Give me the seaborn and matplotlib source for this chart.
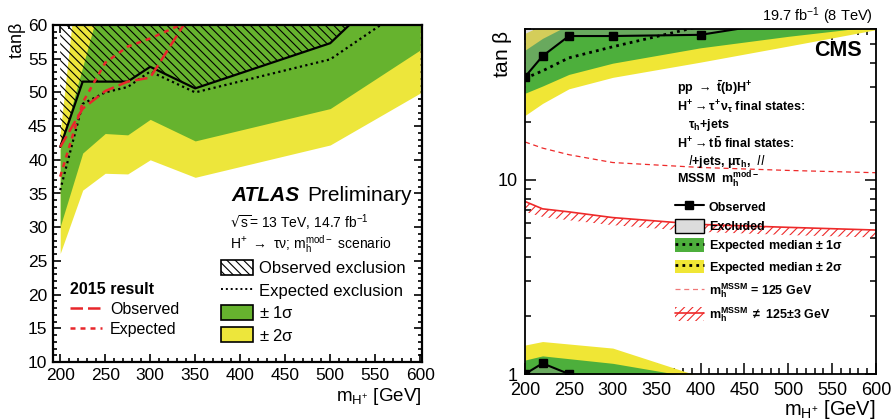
import numpy as np
import matplotlib
matplotlib.use('Agg')
import matplotlib.pyplot as plt
import matplotlib.patches as mpatches
from matplotlib.lines import Line2D
from matplotlib.ticker import MultipleLocator, FixedLocator, FixedFormatter, NullFormatter
import seaborn as sns

sns.set_style('ticks')
plt.rcParams['font.family'] = ['Liberation Sans', 'DejaVu Sans']
plt.rcParams['mathtext.default'] = 'regular'
plt.rcParams['hatch.linewidth'] = 0.8
for k in ['text.color', 'axes.labelcolor', 'xtick.color', 'ytick.color', 'axes.edgecolor']:
    plt.rcParams[k] = 'black'

# ---------------- ATLAS 13 TeV (left) ----------------
atlas_mass = [200, 225, 250, 275, 300, 350, 500, 600]
atlas_obs = [41.9, 51.6, 51.6, 51.6, 53.8, 50.6, 57.3, 70.0]
atlas_exp = [35.5, 48.3, 50.0, 50.8, 53.1, 50.0, 54.9, 64.0]
atlas_1s_lo = [30.1, 41.0, 43.9, 43.7, 46.0, 42.8, 47.6, 56.3]
atlas_1s_hi = [41.6, 53.8, 66.0, 80.0, 80.0, 80.0, 80.0, 80.0]
atlas_2s_lo = [26.1, 35.5, 38.0, 37.9, 40.0, 37.4, 42.2, 49.9]
atlas_2s_hi = [44.0, 75.0, 80.0, 80.0, 80.0, 80.0, 80.0, 80.0]

# 2015 result
atlas15_mass = [200, 225, 250, 275, 300, 350]
atlas15_obs = [41.9, 47.6, 50.2, 51.6, 52.2, 62.7]
atlas15_exp = [37.5, 48.5, 54.4, 56.8, 58.0, 61.0]

# ---------------- CMS 8 TeV (right) ----------------
cms_mass = [200, 220, 250, 300, 400, 500, 600]
cms_obs = [34.0, 43.5, 55.2, 55.2, 56.0, 66.0, 80.0]
cms_exp = [33.4, 36.5, 42.6, 48.6, 62.0, 75.0, 85.0]
cms_1s_lo = [28.0, 30.5, 35.0, 40.0, 48.0, 55.0, 62.0]
cms_1s_hi = [46.7, 53.7, 63.0, 80.0, 90.0, 90.0, 90.0]
cms_2s_lo = [21.5, 24.8, 29.5, 33.8, 40.5, 49.0, 59.5]
cms_2s_hi = [57.0, 63.0, 90.0, 90.0, 90.0, 90.0, 90.0]

# low tan(beta) region
cms_low_mass = [200, 220, 300, 400]
cms_low_1s_hi = [1.18, 1.24, 1.135, 0.95]
cms_low_2s_hi = [1.41, 1.47, 1.36, 0.97]
cms_low_obs_mass = [200, 220, 250]
cms_low_obs = [1.0, 1.135, 1.0]

# mh constraints
cms_mh125 = [15.7, 14.6, 13.5, 12.3, 11.6, 11.2, 10.9]
cms_mh_hi = [7.75, 7.1, 6.85, 6.4, 5.9, 5.7, 5.52]
cms_mh_lo = [6.85, 6.45, 6.2, 5.85, 5.4, 5.2, 5.05]

atlas_green = '#66b32e'
atlas_yellow = '#ede63b'
cms_green = '#4daf3c'
cms_yellow = '#f0e635'
W, H = 893, 419


def px(x, y):
    return x / W, 1 - y / H


fig = plt.figure(figsize=(W / 100, H / 100), dpi=100)
ax1 = fig.add_axes([53 / W, 1 - 362 / H, 369 / W, 337 / H])
ax2 = fig.add_axes([525 / W, 1 - 374 / H, 351 / W, 345 / H])

# ---- left panel
ax1.fill_between(atlas_mass, atlas_2s_lo, atlas_2s_hi, color=atlas_yellow, lw=0)
ax1.fill_between(atlas_mass, atlas_1s_lo, atlas_1s_hi, color=atlas_green, lw=0)
ax1.fill_between(atlas_mass, atlas_obs, 80, facecolor='none', edgecolor='black',
                 hatch='\\\\\\\\', lw=0)
ax1.plot(atlas_mass, atlas_exp, color='black', ls=(0, (1, 1.5)), lw=1.6)
ax1.plot(atlas_mass, atlas_obs, color='black', lw=1.6)
ax1.plot(atlas15_mass, atlas15_obs, color='#e8262b', ls=(0, (5, 2)), lw=1.8)
ax1.plot(atlas15_mass, atlas15_exp, color='#e8262b', ls=(0, (2, 2)), lw=1.8)

ax1.set_xlim(192, 602)
ax1.set_ylim(10, 60)
ax1.xaxis.set_major_locator(MultipleLocator(50))
ax1.xaxis.set_minor_locator(MultipleLocator(10))
ax1.yaxis.set_major_locator(MultipleLocator(5))
ax1.yaxis.set_minor_locator(MultipleLocator(1))
ax1.tick_params(which='both', direction='in', top=True, right=True, width=1.2)
ax1.tick_params(which='major', length=6, labelsize=12.5, pad=4)
ax1.tick_params(which='minor', length=3)
for s in ax1.spines.values():
    s.set_linewidth(1.6)

fig.text(*px(17, 22), r'tan$\beta$', rotation=90, ha='center', va='top', fontsize=13)
fig.text(*px(421, 396), r'm$_{H^{+}}$ [GeV]', ha='right', va='center', fontsize=13.5)
fig.text(*px(231, 195), 'ATLAS', ha='left', va='center', fontsize=15,
         fontweight='bold', fontstyle='italic')
fig.text(*px(307, 195), 'Preliminary', ha='left', va='center', fontsize=15)
fig.text(*px(230, 223), r'$\sqrt{s}$= 13 TeV, 14.7 fb$^{-1}$', ha='left', va='center', fontsize=10)
fig.text(*px(230, 244), r'H$^{+}$ $\rightarrow$ $\tau\nu$; m$_{h}^{mod-}$ scenario',
         ha='left', va='center', fontsize=10)

h_atlas = [mpatches.Patch(facecolor='white', edgecolor='black', hatch='\\\\\\\\', lw=1.2),
           Line2D([], [], color='black', ls=(0, (1, 1.5)), lw=1.4),
           mpatches.Patch(facecolor=atlas_green, edgecolor='black', lw=1.2),
           mpatches.Patch(facecolor=atlas_yellow, edgecolor='black', lw=1.2)]
leg1 = ax1.legend(h_atlas, ['Observed exclusion', 'Expected exclusion',
                            r'$\pm$ 1$\sigma$', r'$\pm$ 2$\sigma$'],
                  loc='upper left', bbox_to_anchor=px(221, 260), bbox_transform=fig.transFigure,
                  frameon=False, fontsize=12, handlelength=1.9, handleheight=1.0,
                  handletextpad=0.4, labelspacing=0.38, borderpad=0, borderaxespad=0)
ax1.add_artist(leg1)

h_2015 = [Line2D([], [], color='#e8262b', ls=(0, (5, 2)), lw=1.8),
          Line2D([], [], color='#e8262b', ls=(0, (2, 2)), lw=1.8)]
leg2 = ax1.legend(h_2015, ['Observed', 'Expected'], title='2015 result',
                  loc='upper left', bbox_to_anchor=px(70, 282), bbox_transform=fig.transFigure,
                  frameon=False, fontsize=11.5, title_fontproperties={'weight': 'bold', 'size': 11.5},
                  handlelength=2.0, handletextpad=0.5, labelspacing=0.3, borderpad=0,
                  borderaxespad=0)
leg2._legend_box.align = 'left'

# ---- right panel
ax2.set_yscale('log')
ax2.fill_between(cms_mass, cms_2s_lo, cms_2s_hi, color=cms_yellow, lw=0)
ax2.fill_between(cms_mass, cms_1s_lo, cms_1s_hi, color=cms_green, lw=0)
ax2.fill_between(cms_low_mass, 0.5, cms_low_2s_hi, color=cms_yellow, lw=0)
ax2.fill_between(cms_low_mass, 0.5, cms_low_1s_hi, color=cms_green, lw=0)
ax2.plot(cms_mass, cms_exp, color='black', ls=(0, (1, 1.5)), lw=2)
ax2.fill_between(cms_mass, cms_obs, 100, color='#a0a0a0', alpha=0.35, lw=0)
ax2.fill_between(cms_low_obs_mass, 0.5, cms_low_obs, color='#a0a0a0', alpha=0.35, lw=0)
ax2.plot(cms_mass, cms_obs, color='black', lw=1.5, marker='s', ms=6)
ax2.plot(cms_low_obs_mass, cms_low_obs, color='black', lw=1.5, marker='s', ms=6)
ax2.plot(cms_mass, cms_mh125, color='#ee2a2a', ls=(0, (4, 3)), lw=0.9)
ax2.fill_between(cms_mass, cms_mh_lo, cms_mh_hi, facecolor='none', edgecolor='#ee2a2a',
                 hatch='////', lw=0)
ax2.plot(cms_mass, cms_mh_hi, color='#ee2a2a', lw=1.2)

ax2.set_xlim(200, 600)
ax2.set_ylim(1, 60)
ax2.xaxis.set_major_locator(MultipleLocator(50))
ax2.xaxis.set_minor_locator(MultipleLocator(10))
ax2.yaxis.set_major_locator(FixedLocator([1, 10]))
ax2.yaxis.set_minor_locator(FixedLocator([2, 3, 4, 5, 6, 7, 8, 9, 20, 30, 40, 50, 60]))
ax2.yaxis.set_major_formatter(FixedFormatter(['1', '10']))
ax2.yaxis.set_minor_formatter(NullFormatter())
ax2.tick_params(which='both', direction='in', top=True, right=True, width=1.1)
ax2.tick_params(which='major', length=8, labelsize=13)
ax2.tick_params(axis='x', which='major', pad=5.5)
ax2.tick_params(axis='y', which='major', pad=5)
ax2.tick_params(which='minor', length=4)
for s in ax2.spines.values():
    s.set_linewidth(1.3)

fig.text(*px(502, 30), r'tan $\beta$', rotation=90, ha='center', va='top', fontsize=15)
fig.text(*px(876, 409), r'm$_{H^{+}}$ [GeV]', ha='right', va='center', fontsize=14.5)
fig.text(*px(873, 16), r'19.7 fb$^{-1}$ (8 TeV)', ha='right', va='center', fontsize=10.5)
fig.text(*px(862, 50), 'CMS', ha='right', va='center', fontsize=15.5, fontweight='bold')

cms_lines = [(677, 88, r'pp $\rightarrow$ $\bar{t}$(b)H$^{+}$'),
             (677, 107, r'H$^{+}$$\rightarrow$$\tau^{+}\nu_{\tau}$ final states:'),
             (688, 125, r'$\tau_{h}$+jets'),
             (677, 143, r'H$^{+}$$\rightarrow$t$\bar{b}$ final states:'),
             (688, 161, r'$\mathit{l}$+jets, $\mu\tau_{h}$,  $\mathit{ll}$'),
             (677, 180, r'MSSM  m$_{h}^{mod-}$')]
for x, y, s in cms_lines:
    fig.text(*px(x, y), s, ha='left', va='center', fontsize=9, fontweight='bold')

h_cms = [Line2D([], [], color='black', lw=1.5, marker='s', ms=6),
         mpatches.Patch(facecolor='#dcdcdc', edgecolor='black', lw=1),
         (mpatches.Patch(facecolor=cms_green, lw=0), Line2D([], [], color='black', ls=(0, (1, 1.5)), lw=2)),
         (mpatches.Patch(facecolor=cms_yellow, lw=0), Line2D([], [], color='black', ls=(0, (1, 1.5)), lw=2)),
         Line2D([], [], color='#f07878', ls=(0, (4, 3)), lw=0.9),
         (mpatches.Patch(facecolor='none', edgecolor='#ee2a2a', hatch='////', lw=0),
          Line2D([], [], color='#ee2a2a', lw=1.2))]
ax2.legend(h_cms, ['Observed', 'Excluded', r'Expected median $\pm$ 1$\sigma$',
                   r'Expected median $\pm$ 2$\sigma$', r'm$_{h}^{MSSM}$ = 125 GeV',
                   r'm$_{h}^{MSSM}$ $\neq$ 125$\pm$3 GeV'],
           loc='upper left', bbox_to_anchor=px(675, 200), bbox_transform=fig.transFigure,
           frameon=False, prop={'weight': 'bold', 'size': 9}, handlelength=2.3,
           handleheight=1.3, handletextpad=0.4, labelspacing=0.42, borderpad=0, borderaxespad=0)

fig.savefig('out.png', dpi=100)
